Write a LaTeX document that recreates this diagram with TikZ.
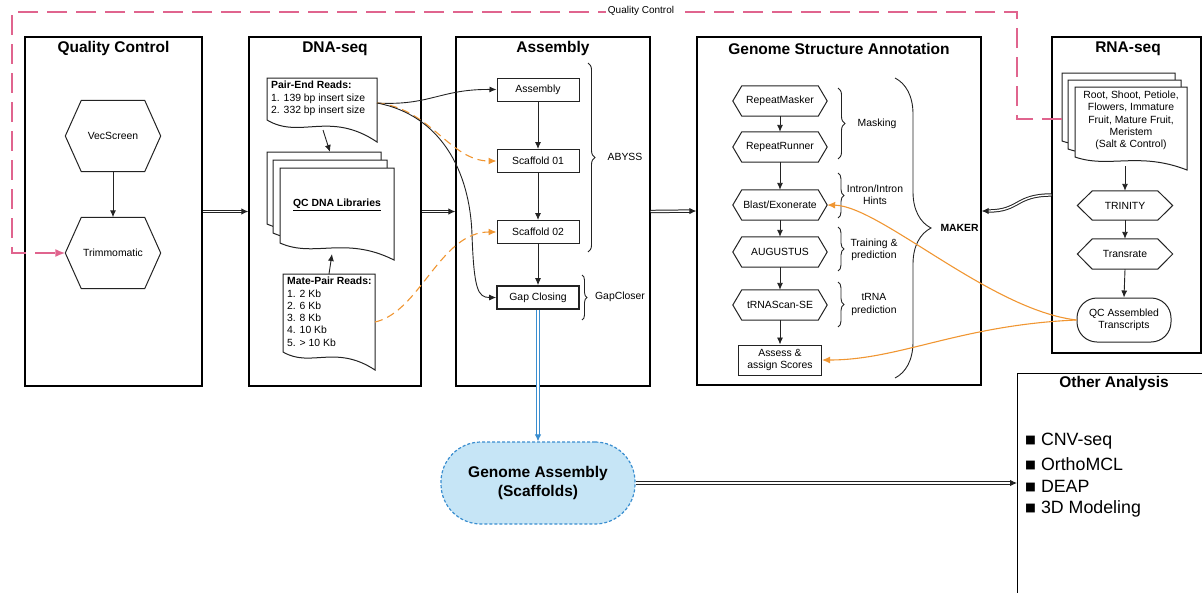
\documentclass[tikz,border=0pt]{standalone}
\usepackage{fontspec}
\setmainfont{Liberation Sans}
\newfontfamily\dejavu{DejaVu Sans}
\usetikzlibrary{arrows.meta,decorations.pathreplacing,calc}
\definecolor{pinkq}{RGB}{224,100,142}
\definecolor{orangeq}{RGB}{240,150,50}
\definecolor{blueq}{RGB}{58,142,208}
\definecolor{bluefill}{RGB}{198,229,246}
\definecolor{lineq}{RGB}{35,35,35}
\newcommand\hexat[2]{\draw[hexline] (#1.west) -- ([xshift=#2]#1.north west) -- ([xshift=-#2]#1.north east) -- (#1.east) -- ([xshift=-#2]#1.south east) -- ([xshift=#2]#1.south west) -- cycle;}
\newcommand\docat[5]{\draw[docline] (#1,#2) -- ({#1+#3},#2) -- ({#1+#3},{#2+#4+#5}) .. controls ({#1+0.57*#3},{#2+#4-0.45*#5}) and ({#1+0.3*#3},{#2+#4+0.9*#5}) .. (#1,{#2+#4}) -- cycle;}
\newcommand\bul{\raisebox{1.8pt}{\dejavu\fontsize{11.5}{12}\selectfont ■}}
\begin{document}
\begin{tikzpicture}[x=1pt,y=-1pt,
  panel/.style={draw=black, line width=1.3pt, inner sep=0pt},
  ttl/.style={font=\fontsize{15.5}{18}\selectfont\bfseries},
  txt/.style={font=\fontsize{10.4}{12.3}\selectfont},
  box/.style={draw=lineq, line width=1pt, fill=white, minimum width=82pt, minimum height=23pt, inner sep=0pt, txt},
  hexn/.style={inner sep=0pt, txt, align=center},
  hexline/.style={draw=lineq, line width=1pt},
  docline/.style={draw=lineq, line width=1pt, fill=white},
  arr/.style={draw=lineq, line width=0.9pt, -{Latex[length=7pt,width=6pt]}},
  oarr/.style={draw=orangeq, line width=1.1pt, -{Latex[length=8pt,width=7pt]}},
  odash/.style={oarr, dash pattern=on 8pt off 5pt},
  dbl/.style={draw=lineq, double=white, double distance=1.4pt, line width=1pt, -{Latex[length=7pt,width=6.5pt]}},
  brc/.style={draw=lineq, line width=0.9pt, decorate, decoration={brace, amplitude=#1}},
  blab/.style={txt, align=center},
]
\useasboundingbox (0,0) rectangle (1202,592);

% panels
\node[panel, minimum width=177pt, minimum height=349pt] (qc) at (113.5,211.5) {};
\node[panel, minimum width=172pt, minimum height=349pt] (dna) at (335,211.5) {};
\node[panel, minimum width=194pt, minimum height=349pt] (asm) at (553,211.5) {};
\node[panel, minimum width=284pt, minimum height=348pt] (gsa) at (839,211) {};
\node[panel, minimum width=149pt, minimum height=316pt] (rna) at (1126.5,195) {};
\node[panel, minimum width=200pt, minimum height=240pt, anchor=north west] (oa) at (1017,373) {};

\node[ttl] (qct) at (113.5,48.5) {Quality Control};
\node[ttl] (dnat) at (335,48.5) {DNA-seq};
\node[ttl] (asmt) at (553,48.5) {Assembly};
\node[ttl] (gsat) at (839,48.5) {Genome Structure Annotation};
\node[ttl] (rnat) at (1128,48.5) {RNA-seq};
\node[ttl] (oat) at (1114,383.5) {Other Analysis};

% quality control
\node[hexn, minimum width=95pt, minimum height=71pt] (vec) at (113,136) {VecScreen};
\hexat{vec}{16pt}
\node[hexn, minimum width=95pt, minimum height=71pt] (trim) at (113,253) {Trimmomatic};
\hexat{trim}{16pt}
\draw[arr] (vec.south) -- (trim.north);

% DNA-seq documents
\docat{267}{78}{110}{42}{22}
\node[txt, anchor=north west, inner sep=0pt, align=left] (pe) at (271,81) {\textbf{Pair-End Reads:}\\1. 139 bp insert size\\2. 332 bp insert size};
\docat{267}{152}{114}{72}{17}
\docat{273}{160}{114}{73}{17}
\docat{280}{168}{114}{75}{17}
\node[txt, font=\fontsize{10.4}{12.3}\selectfont\bfseries] (qcdna) at (337,205) {\underline{QC DNA Libraries}};
\docat{283}{274}{92}{78}{18}
\node[txt, anchor=north west, inner sep=0pt, align=left] (mp) at (287,277) {\textbf{Mate-Pair Reads:}\\1. 2 Kb\\2. 6 Kb\\3. 8 Kb\\4. 10 Kb\\5. > 10 Kb};
\coordinate (peB) at (323,130);
\coordinate (qcT) at (330,152);
\coordinate (mpT) at (329,274);
\coordinate (qcB) at (332,254);
\draw[arr] (peB) -- (qcT);
\draw[arr] (mpT) -- (qcB);

% Assembly
\node[box] (asmb) at (538,89.5) {Assembly};
\node[box] (sc1) at (538,161) {Scaffold 01};
\node[box] (sc2) at (538,232) {Scaffold 02};
\node[box, line width=1.6pt] (gap) at (538,297.5) {Gap Closing};
\draw[arr] (asmb.south) -- (sc1.north);
\draw[arr] (sc1.south) -- (sc2.north);
\draw[arr] (sc2.south) -- (gap.north);
\draw[brc=7pt] (588,63) -- (588,252);
\node[blab] (abyss) at (625,157) {ABYSS};
\draw[brc=5pt] (582,275) -- (582,320);
\node[blab] (gcl) at (620,297) {GapCloser};

\coordinate (peR) at (377,103);
\coordinate (mpR) at (375,322);
\coordinate (hop) at (472,235);
\draw[arr] (peR) .. controls (430,106) and (440,89) .. (asmb.west);
\draw[odash] (peR) .. controls (430,108) and (450,161) .. (sc1.west);
\draw[arr] (peR) .. controls (440,115) and (470,170) .. (hop) .. controls (474,290) and (478,297.5) .. (gap.west);
\draw[odash] (mpR) .. controls (420,312) and (440,232) .. (sc2.west);

% Genome structure annotation
\node[hexn, minimum width=94pt, minimum height=30pt] (rm) at (780,101) {RepeatMasker};
\hexat{rm}{9pt}
\node[hexn, minimum width=94pt, minimum height=30pt] (rr) at (780,147) {RepeatRunner};
\hexat{rr}{9pt}
\node[hexn, minimum width=94pt, minimum height=30pt] (blast) at (780,205) {Blast/Exonerate};
\hexat{blast}{9pt}
\node[hexn, minimum width=94pt, minimum height=30pt] (aug) at (780,252) {AUGUSTUS};
\hexat{aug}{9pt}
\node[hexn, minimum width=94pt, minimum height=30pt] (trna) at (780,305) {tRNAScan-SE};
\hexat{trna}{9pt}
\node[box, minimum width=83pt, minimum height=30pt, align=center] (asg) at (780,360) {Assess \&\\assign Scores};
\draw[arr] (rm.south) -- (rr.north);
\draw[arr] (rr.south) -- (blast.north);
\draw[arr] (blast.south) -- (aug.north);
\draw[arr] (aug.south) -- (trna.north);
\draw[arr] (trna.south) -- (asg.north);

\draw[brc=7pt] (838,88) -- (838,159);
\node[blab] (mask) at (877,124) {Masking};
\draw[brc=6pt] (838,173) -- (838,218);
\node[blab] (intr) at (875,194.5) {Intron/Intron\\Hints};
\draw[brc=6pt] (838,227) -- (838,271);
\node[blab] (train) at (874,249.5) {Training \&\\prediction};
\draw[brc=6pt] (838,282) -- (838,327);
\node[blab] (trnap) at (874,304.5) {tRNA\\prediction};
\draw[brc=36pt] (895,78) -- (895,378);
\node[txt, font=\fontsize{10.4}{12.3}\selectfont\bfseries, anchor=west] (maker) at (937,228) {MAKER};

% RNA-seq
\docat{1062}{73}{113}{68}{13}
\docat{1068}{80}{113}{69}{13}
\docat{1075}{87}{112}{70}{13}
\node[blab] (tissue) at (1131,120.5) {Root, Shoot, Petiole,\\Flowers, Immature\\Fruit, Mature Fruit,\\Meristem\\(Salt \& Control)};
\node[hexn, minimum width=95pt, minimum height=29pt] (trin) at (1125,205.5) {TRINITY};
\hexat{trin}{15pt}
\node[hexn, minimum width=95pt, minimum height=30pt] (tran) at (1125,254) {Transrate};
\hexat{tran}{15pt}
\node[draw=lineq, line width=1pt, rounded corners=20pt, minimum width=94pt, minimum height=44pt, inner sep=0pt, blab] (qcat) at (1124,320) {QC Assembled\\Transcripts};
\coordinate (rnaB) at (1125,166);
\draw[arr] (rnaB) -- (trin.north);
\draw[arr] (trin.south) -- (tran.north);
\draw[arr] (tran.south) -- (qcat.north);

\draw[oarr] (qcat.west) .. controls (990,310) and (880,206) .. (blast.east);
\draw[oarr] (qcat.west) .. controls (960,325) and (900,360) .. (asg.east);

% genome assembly capsule
\node[draw=blueq, dash pattern=on 3pt off 2pt, line width=1.2pt, fill=bluefill, rounded corners=40pt, minimum width=194pt, minimum height=82pt, inner sep=0pt, font=\fontsize{15.5}{19}\selectfont\bfseries, align=center] (cap) at (538,483) {Genome Assembly\\(Scaffolds)};

% other analysis
\node[anchor=west, inner sep=0pt, font=\fontsize{17.8}{20}\selectfont] (oa1) at (1025,441) {\bul\ CNV-seq};
\node[anchor=west, inner sep=0pt, font=\fontsize{17.8}{20}\selectfont] (oa2) at (1025,464) {\bul\ OrthoMCL};
\node[anchor=west, inner sep=0pt, font=\fontsize{17.8}{20}\selectfont] (oa3) at (1025,486.5) {\bul\ DEAP};
\node[anchor=west, inner sep=0pt, font=\fontsize{17.8}{20}\selectfont] (oa4) at (1025,509) {\bul\ 3D Modeling};

% double connectors
\draw[dbl] (qc.east) -- (dna.west);
\draw[dbl] (dna.east) -- (asm.west);
\draw[dbl] (asm.east) -- (gsa.west);
\draw[dbl] (rna.west) .. controls (1015,195) and (1020,211) .. (gsa.east);
\draw[dbl] (cap.east) -- (cap.east -| oa.west);
\draw[dbl, draw=blueq] (gap.south) -- (cap.north);

% quality control feedback
\coordinate (qcin) at (1062,119);
\draw[draw=pinkq, line width=1.6pt, dash pattern=on 20pt off 9pt, -{Latex[length=10pt,width=8pt]}] (qcin) -- (1017,119) -- (1017,12) -- (12,12) -- (12,253) -- (trim.west);
\node[fill=white, inner sep=2pt, font=\fontsize{10}{12}\selectfont] (qcl) at (641,11) {Quality Control};
\end{tikzpicture}
\end{document}
